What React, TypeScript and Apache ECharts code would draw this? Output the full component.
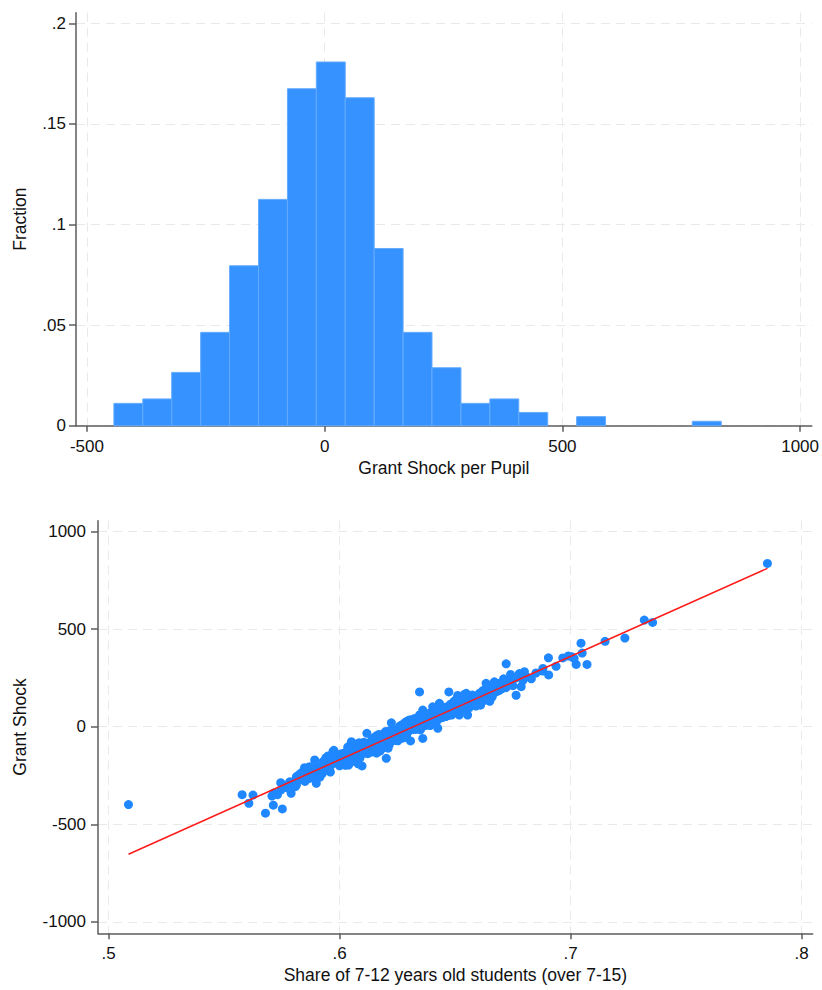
import React, { useEffect, useRef } from "react";
import * as echarts from "echarts";

// ---------- Histogram (Grant Shock per Pupil) ----------
const binLower = [
  -443.3, -382.5, -321.7, -260.8, -200.0, -139.2, -78.3, -17.5, 43.3, 104.2,
  165.0, 225.8, 286.7, 347.5, 408.3, 469.2, 530.0, 590.8, 651.7, 712.5, 773.3,
];
const binUpper = [
  -382.5, -321.7, -260.8, -200.0, -139.2, -78.3, -17.5, 43.3, 104.2, 165.0,
  225.8, 286.7, 347.5, 408.3, 469.2, 530.0, 590.8, 651.7, 712.5, 773.3, 834.2,
];
const binFraction = [
  0.0111, 0.0133, 0.0265, 0.0464, 0.0795, 0.1125, 0.1675, 0.1808, 0.163, 0.0881,
  0.0464, 0.0288, 0.0111, 0.0133, 0.0066, 0, 0.0045, 0, 0, 0, 0.0022,
];
const histXTicks = [-500, 0, 500, 1000];
const histYTicks = [0, 0.05, 0.1, 0.15, 0.2];

// ---------- Scatter (Share of 7-12 vs Grant Shock) ----------
const scatterPoints = [
  [0.5086,-399],[0.5607,-392],[0.5679,-443],[0.5713,-402],[0.5752,-421],
  [0.5578,-348],[0.5625,-350],[0.5715,-340],[0.5731,-348],[0.5707,-355],[0.5790,-341],[0.5745,-325],
  [0.5745,-287],[0.5772,-310],[0.5798,-282],[0.5808,-307],[0.5777,-315],[0.5784,-282],[0.5813,-298],[0.5899,-290],[0.5830,-270],[0.5760,-300],[0.5850,-280],[0.5870,-265],
  [0.5813,-256],[0.5820,-250],[0.5841,-230],[0.5856,-256],[0.5878,-247],[0.5913,-205],[0.5892,-213],[0.5942,-222],[0.5830,-240],[0.5865,-220],[0.5885,-235],[0.5900,-250],[0.5925,-240],[0.5950,-205],[0.5870,-205],[0.5905,-228],[0.5935,-215],[0.5960,-232],[0.5848,-210],[0.5915,-258],[0.5880,-260],
  [0.5892,-170],[0.5928,-179],[0.5957,-170],[0.5989,-187],[0.6003,-162],[0.6039,-196],[0.6061,-145],[0.6097,-201],[0.6202,-162],
  [0.5935,-190],[0.5950,-150],[0.5965,-195],[0.5975,-160],[0.5980,-145],[0.5995,-175],[0.6010,-190],[0.6015,-150],[0.6020,-170],[0.6030,-140],[0.6045,-165],[0.6050,-180],[0.6065,-175],[0.6070,-155],[0.6080,-190],[0.6025,-198],[0.5985,-140],[0.5940,-160],[0.6005,-140],[0.6035,-185],[0.6055,-145],[0.6000,-200],[0.6040,-150],[0.6075,-140],[0.5970,-178],[0.6012,-160],[0.6088,-160],
  [0.5971,-128],[0.5975,-121],[0.6017,-136],[0.6046,-94],[0.6090,-111],[0.6118,-85],[0.6132,-119],[0.6202,-85],
  [0.6030,-130],[0.6040,-115],[0.6050,-138],[0.6055,-100],[0.6060,-125],[0.6068,-110],[0.6072,-135],[0.6078,-90],[0.6082,-120],[0.6088,-130],[0.6095,-100],[0.6100,-125],[0.6105,-80],[0.6110,-115],[0.6115,-135],[0.6120,-105],[0.6125,-90],[0.6128,-128],[0.6135,-95],[0.6140,-110],[0.6145,-82],[0.6150,-120],[0.6155,-100],[0.6160,-135],[0.6165,-88],[0.6170,-112],[0.6175,-125],[0.6180,-95],[0.6185,-80],[0.6190,-108],[0.6112,-132],[0.6062,-88],[0.6085,-82],[0.6108,-98],[0.6138,-130],[0.6148,-105],[0.6158,-92],[0.6098,-138],[0.6070,-96],[0.6210,-110],[0.6215,-92],[0.6035,-105],[0.6122,-138],
  [0.6150,-75],[0.6185,-72],[0.6200,-78],[0.6165,-70],[0.6210,-68],[0.6140,-66],
  [0.6180,-64],[0.6225,-62],[0.6160,-60],[0.6200,-66],[0.6240,-70],[0.6190,-58],[0.6150,-55],
  [0.6215,-56],[0.6235,-54],[0.6205,-52],[0.6255,-58],[0.6170,-50],[0.6195,-48],[0.6240,-46],[0.6265,-52],
  [0.6225,-44],[0.6210,-42],[0.6250,-40],[0.6190,-38],[0.6275,-44],[0.6230,-36],[0.6260,-38],[0.6205,-34],
  [0.6245,-32],[0.6280,-34],[0.6220,-30],[0.6265,-28],[0.6235,-26],[0.6290,-30],[0.6200,-24],[0.6255,-22],
  [0.6275,-20],[0.6230,-18],[0.6300,-22],[0.6265,-18],[0.6285,-26],
  [0.6178,-62],[0.6222,-74],[0.6232,-66],[0.6242,-50],[0.6258,-44],[0.6272,-36],[0.6212,-28],[0.6245,-20],[0.6282,-18],[0.6198,-40],[0.6188,-70],[0.6218,-48],[0.6248,-64],[0.6268,-60],[0.6290,-48],[0.6160,-46],[0.6228,-56],
  [0.6162,-77],[0.6177,-51],[0.6230,-51],[0.6245,-26],[0.6118,-34],[0.6051,-77],[0.6307,-73],[0.6360,-60],
  [0.6208,-60],[0.6238,-42],[0.6262,-32],[0.6218,-20],[0.6252,-72],[0.6195,-30],[0.6280,-56],[0.6170,-40],
  [0.6224,20],[0.6288,9],[0.6317,34],[0.6425,-8],[0.6389,34],
  [0.6290,-15],[0.6320,-14],[0.6270,-12],[0.6305,-10],[0.6340,-12],[0.6255,-8],[0.6315,-6],[0.6285,-5],[0.6350,-16],[0.6330,-4],
  [0.6300,-2],[0.6275,0],[0.6330,2],[0.6350,-1],[0.6260,3],[0.6310,4],[0.6290,5],[0.6365,4],[0.6340,6],[0.6320,-3],
  [0.6310,8],[0.6345,10],[0.6280,12],[0.6325,14],[0.6360,12],[0.6295,15],[0.6375,8],[0.6335,7],[0.6270,9],[0.6355,15],
  [0.6340,18],[0.6310,20],[0.6370,22],[0.6325,24],[0.6385,18],[0.6295,22],[0.6355,25],[0.6345,16],[0.6400,24],[0.6280,18],
  [0.6360,28],[0.6330,30],[0.6390,32],[0.6345,34],[0.6375,26],[0.6310,28],[0.6405,30],[0.6365,35],[0.6420,28],[0.6300,33],
  [0.6380,38],[0.6350,40],[0.6400,42],[0.6370,44],[0.6415,37],[0.6335,38],[0.6395,36],[0.6360,43],[0.6430,40],[0.6325,42],
  [0.6318,-9],[0.6302,11],[0.6338,21],[0.6352,31],[0.6368,41],[0.6262,-2],[0.6382,14],[0.6398,20],[0.6412,34],[0.6288,26],[0.6328,-13],[0.6348,3],[0.6362,19],[0.6378,39],[0.6308,36],[0.6392,6],
  [0.6418,60],[0.6403,102],[0.6346,60],[0.6476,94],[0.6518,60],[0.6554,60],[0.6548,102],[0.6360,85],[0.6418,94],
  [0.6400,46],[0.6370,48],[0.6430,50],[0.6385,52],[0.6415,54],[0.6445,47],[0.6360,53],[0.6395,45],[0.6460,52],[0.6420,48],
  [0.6410,56],[0.6440,58],[0.6385,60],[0.6455,62],[0.6425,64],[0.6470,57],[0.6400,65],[0.6375,63],[0.6440,66],[0.6485,60],
  [0.6430,68],[0.6460,70],[0.6405,72],[0.6475,74],[0.6445,67],[0.6420,75],[0.6490,69],[0.6390,70],[0.6455,76],[0.6500,73],
  [0.6450,78],[0.6480,80],[0.6425,82],[0.6495,84],[0.6465,79],[0.6440,85],[0.6510,80],[0.6410,78],[0.6475,86],[0.6520,83],
  [0.6470,88],[0.6500,90],[0.6445,92],[0.6515,94],[0.6485,87],[0.6460,95],[0.6530,89],[0.6430,88],[0.6495,96],[0.6540,92],
  [0.6490,98],[0.6520,100],[0.6465,102],[0.6535,104],[0.6505,97],[0.6480,105],[0.6550,99],[0.6450,100],[0.6515,103],[0.6560,96],
  [0.6435,56],[0.6465,74],[0.6490,83],[0.6505,92],
  [0.6432,120],[0.6511,160],[0.6562,154],[0.6764,161],
  [0.6500,108],[0.6530,110],[0.6560,112],[0.6480,115],[0.6545,118],[0.6590,114],[0.6515,122],[0.6570,125],[0.6600,120],[0.6540,128],[0.6495,130],[0.6585,132],[0.6615,128],[0.6555,135],[0.6525,138],[0.6600,140],[0.6630,136],[0.6570,142],[0.6540,145],[0.6615,148],[0.6645,144],[0.6585,150],[0.6555,153],[0.6630,156],[0.6600,158],[0.6660,152],[0.6575,162],[0.6645,164],[0.6615,165],[0.6520,148],[0.6610,110],[0.6505,140],[0.6650,130],[0.6590,106],[0.6625,160],[0.6540,165],
  [0.6346,178],[0.6473,178],[0.6548,171],[0.6605,171],[0.6634,222],[0.6662,188],[0.6786,205],[0.6692,222],[0.6640,175],[0.6680,180],[0.6620,185],[0.6700,192],[0.6655,198],[0.6720,200],[0.6675,208],[0.6640,212],[0.6710,215],[0.6750,210],[0.6690,185],[0.6730,222],[0.6665,168],
  [0.6670,230],[0.6735,232],[0.6793,236],[0.6740,268],[0.6778,272],[0.6905,265],[0.6879,285],[0.6760,248],[0.6810,255],[0.6830,245],[0.6710,245],[0.6850,275],[0.6800,282],
  [0.6721,322],[0.6937,309],[0.7071,319],[0.7024,319],[0.6880,298],
  [0.6966,352],[0.6904,353],[0.7006,358],[0.7050,377],[0.7015,350],[0.6990,362],
  [0.7045,428],[0.7149,437],[0.7235,454],
  [0.7319,546],[0.7355,534],
  [0.7852,836],
];
const fitLine = [
  [0.5086, -653],
  [0.7852, 811],
];
const scatXTicks = [0.5, 0.6, 0.7, 0.8];
const scatYTicks = [-1000, -500, 0, 500, 1000];

const FONT = "'Liberation Sans', Arial, Helvetica, sans-serif";
const AXIS_COLOR = "#5c5c5c";
const GRID_COLOR = "#e9e9e9";

const stripZero = (v: number) => {
  const s = String(v);
  if (s.startsWith("0.")) return s.slice(1);
  if (s.startsWith("-0.")) return "-" + s.slice(2);
  return s;
};

function axisCommon(
  ticks: number[],
  tickLen: number,
  labelMargin: number,
  fmt: (v: number) => string
) {
  return {
    axisLine: { show: true, onZero: false, lineStyle: { color: AXIS_COLOR, width: 1.5 } },
    axisTick: { show: true, length: tickLen, customValues: ticks, lineStyle: { color: AXIS_COLOR, width: 1.5 } },
    axisLabel: {
      show: true,
      customValues: ticks,
      margin: labelMargin,
      color: "#111",
      fontSize: 17,
      fontFamily: FONT,
      formatter: (v: number) => fmt(v),
    },
    splitLine: { show: true, lineStyle: { color: GRID_COLOR, width: 1, type: [9, 6] } },
    nameLocation: "middle" as const,
    nameTextStyle: { color: "#111", fontSize: 17.5, fontFamily: FONT },
  };
}

export default function App() {
  const ref = useRef<HTMLDivElement>(null);
  useEffect(() => {
    if (!ref.current) return;
    const chart = echarts.init(ref.current, undefined, { renderer: "svg" });
    const histData = binFraction.map((f, i) => [binLower[i], binUpper[i], f]);
    chart.setOption({
      animation: false,
      backgroundColor: "#ffffff",
      grid: [
        { left: 76, width: 736.7, top: 12.7, height: 413 },
        { left: 98, width: 714.7, top: 520.7, height: 412.6 },
      ],
      xAxis: [
        {
          gridIndex: 0,
          type: "value",
          min: -523,
          max: 1024.6,
          name: "Grant Shock per Pupil",
          nameGap: 33,
          ...axisCommon(histXTicks, 6, 12, (v) => String(v)),
        },
        {
          gridIndex: 1,
          type: "value",
          min: 0.4954,
          max: 0.8048,
          name: "Share of 7-12 years old students (over 7-15)",
          nameGap: 33,
          ...axisCommon(scatXTicks, 6, 12, stripZero),
        },
      ],
      yAxis: [
        {
          gridIndex: 0,
          type: "value",
          min: 0,
          max: 0.2053,
          name: "Fraction",
          nameGap: 47,
          nameRotate: 90,
          ...axisCommon(histYTicks, 7, 10, (v) => (v === 0 ? "0" : stripZero(v))),
        },
        {
          gridIndex: 1,
          type: "value",
          min: -1058,
          max: 1055,
          name: "Grant Shock",
          nameGap: 69,
          nameRotate: 90,
          ...axisCommon(scatYTicks, 7, 12, (v) => String(v)),
        },
      ],
      series: [
        {
          type: "custom",
          xAxisIndex: 0,
          yAxisIndex: 0,
          data: histData,
          encode: { x: [0, 1], y: 2 },
          z: 1,
          renderItem: (params: any, api: any) => {
            const x0 = api.value(0);
            const x1 = api.value(1);
            const h = api.value(2);
            if (!h) return null;
            const p0 = api.coord([x0, h]);
            const p1 = api.coord([x1, 0]);
            return {
              type: "rect",
              shape: { x: p0[0], y: p0[1], width: p1[0] - p0[0], height: p1[1] - p0[1] },
              style: { fill: "#3592ff", stroke: "#64abff", lineWidth: 1 },
            };
          },
        },
        {
          type: "scatter",
          xAxisIndex: 1,
          yAxisIndex: 1,
          data: scatterPoints,
          symbol: "circle",
          symbolSize: 9,
          itemStyle: { color: "#1f87ff", opacity: 1 },
          z: 2,
        },
        {
          type: "line",
          xAxisIndex: 1,
          yAxisIndex: 1,
          data: fitLine,
          showSymbol: false,
          symbol: "none",
          lineStyle: { color: "#ff1a1a", width: 1.5 },
          z: 3,
        },
      ],
    });
    return () => chart.dispose();
  }, []);
  return (
    <div
      ref={ref}
      style={{ position: "fixed", left: 0, top: 0, width: 822, height: 990, background: "#fff" }}
    />
  );
}
